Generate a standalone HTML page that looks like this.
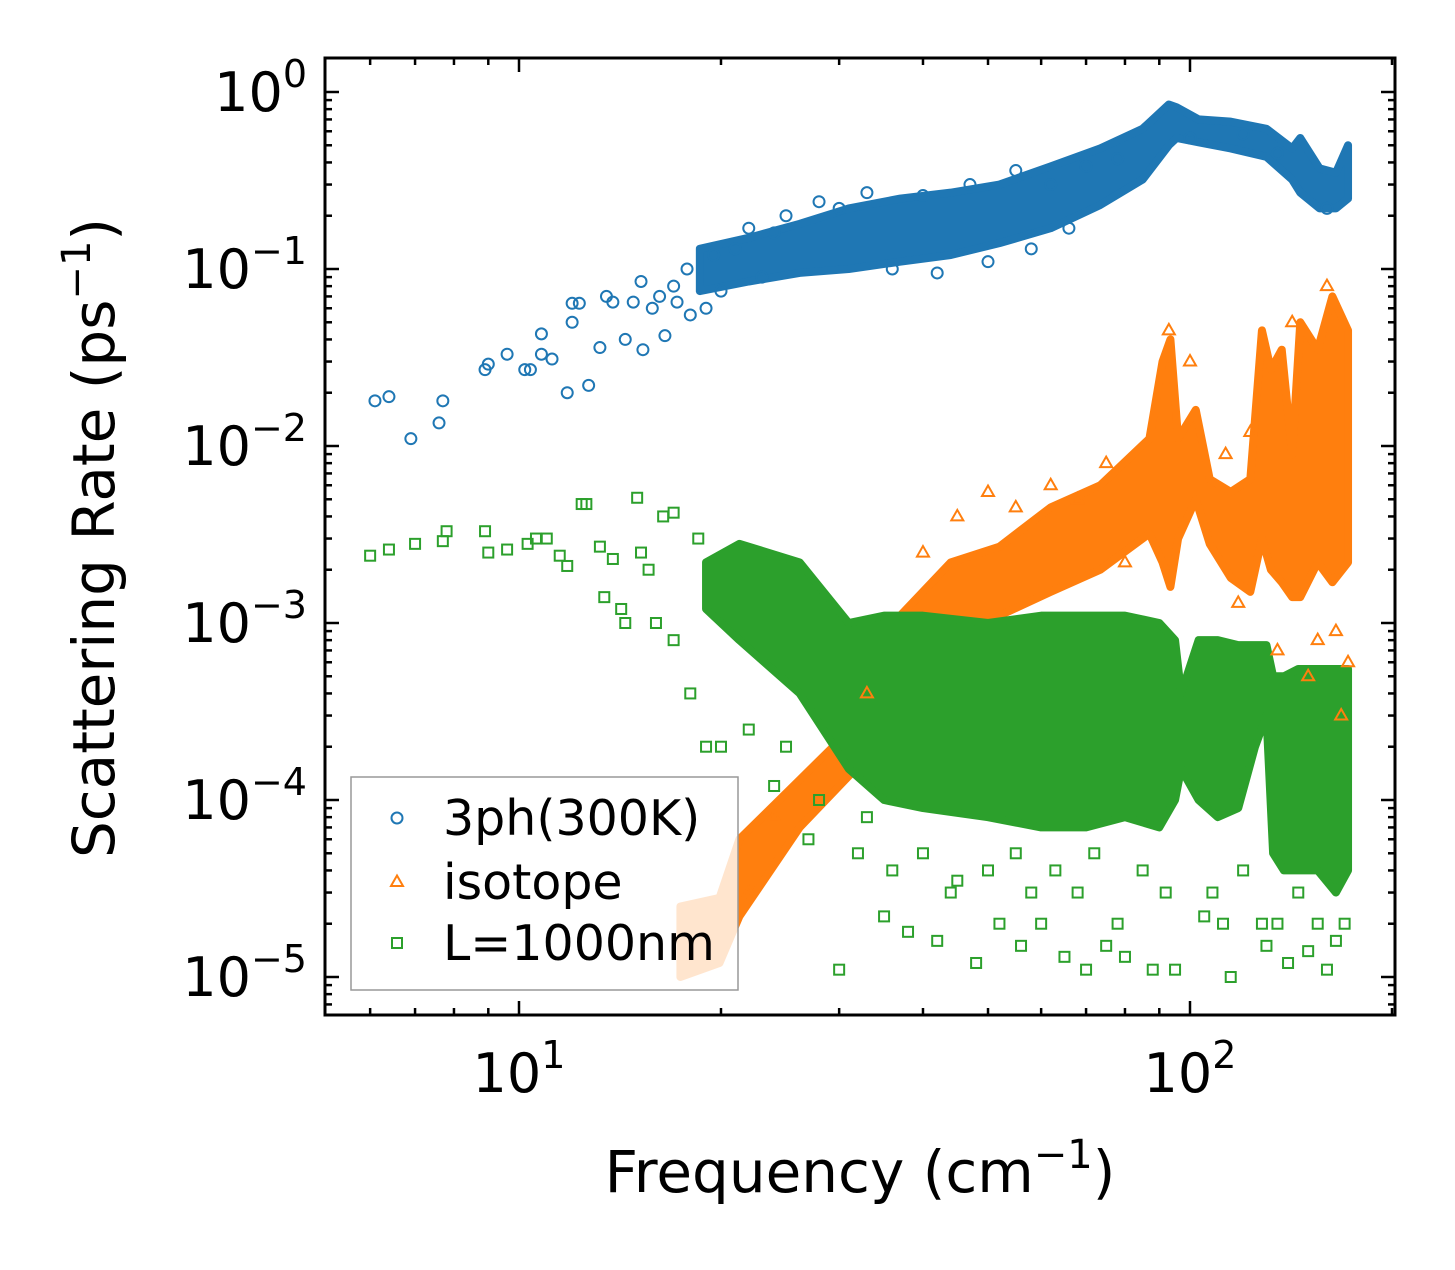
<!DOCTYPE html>
<html><head><meta charset="utf-8"><style>
body{margin:0;background:#fff}
svg text{font-family:"DejaVu Sans","Liberation Sans",sans-serif;fill:#000}
</style></head><body>
<svg id="chart" width="1455" height="1265" viewBox="0 0 1455 1265" xmlns="http://www.w3.org/2000/svg">
<g id="bands"></g>
<g id="marks"></g>
<g id="axes"></g>
<g id="legend"></g>
</svg>
<script>
// ---- data ----
const blueFreq=[6.1,6.4,6.9,7.6,7.7,8.9,9.0,9.6,10.2,10.4,10.8,10.8,11.2,11.8,12.0,12.0,12.3,12.7,13.2,13.5,13.8,14.4,14.8,15.2,15.3,15.8,16.2,16.5,17.0,17.2,17.8,18.0,19.5,22,25,28,33,40,47,55,62,70,78,19,20,21,23,24,30,36,42,50,58,66,100,120,135,160];
const blueRate=[0.018,0.019,0.011,0.0135,0.018,0.027,0.029,0.033,0.027,0.027,0.043,0.033,0.031,0.02,0.064,0.05,0.064,0.022,0.036,0.07,0.065,0.04,0.065,0.085,0.035,0.06,0.07,0.042,0.08,0.065,0.1,0.055,0.12,0.17,0.2,0.24,0.27,0.26,0.3,0.36,0.3,0.38,0.42,0.06,0.075,0.13,0.09,0.16,0.22,0.1,0.095,0.11,0.13,0.17,0.55,0.58,0.45,0.22];
const blueBandF=[18.6,22,26.2,31,37,44,52,62,73.5,85,93,95.5,103,115,130,142,146,156,165,172];
const blueBandLo=[0.075,0.085,0.095,0.1,0.11,0.12,0.14,0.17,0.23,0.32,0.5,0.55,0.52,0.48,0.43,0.32,0.27,0.22,0.22,0.25];
const blueBandHi=[0.13,0.15,0.18,0.22,0.25,0.27,0.3,0.38,0.48,0.62,0.85,0.82,0.7,0.68,0.62,0.48,0.55,0.37,0.35,0.5];

const orangeFreq=[50,62,75,93,113,123,142,160,165,172,40,45,55,68,80,100,118,135,150,155,168,22,24,28,33];
const orangeRate=[0.0055,0.006,0.008,0.045,0.009,0.012,0.05,0.08,0.0009,0.0006,0.0025,0.004,0.0045,0.005,0.0022,0.03,0.0013,0.0007,0.0005,0.0008,0.0003,0.00003,0.00008,0.0001,0.0004];
const orangeBandF=[17.4,19.9,21.3,26.2,31.2,34,37,44,52,62,73.5,87,91,93.5,96,102,107,115,123,128,132,137,142,146,155,163,172];
const orangeBandLo=[0.00001,0.000012,0.000022,0.00007,0.00014,0.0002,0.0004,0.0008,0.0011,0.0015,0.002,0.0032,0.0022,0.0016,0.003,0.005,0.0028,0.0018,0.0015,0.003,0.002,0.0017,0.0014,0.0014,0.0022,0.0017,0.0022];
const orangeBandHi=[0.000025,0.000028,0.00006,0.00013,0.00025,0.0005,0.0011,0.0022,0.0027,0.0045,0.006,0.011,0.03,0.04,0.011,0.016,0.0065,0.0055,0.0065,0.045,0.027,0.035,0.009,0.05,0.035,0.07,0.045];

const greenFreq=[6.0,6.4,7.0,7.7,7.8,8.9,9.0,9.6,10.3,10.6,11,11.5,11.8,12.4,12.6,13.2,13.4,13.8,14.2,14.4,15,15.2,15.6,16,16.4,17,17,18,18.5,19,20,22,24,27,30,32,35,38,42,45,48,52,56,60,65,70,75,80,88,95,105,115,130,140,150,160,165,25,28,33,36,40,44,50,55,58,63,68,72,78,85,92,108,112,120,128,135,145,155,170];
const greenRate=[0.0024,0.0026,0.0028,0.0029,0.0033,0.0033,0.0025,0.0026,0.0028,0.003,0.003,0.0024,0.0021,0.0047,0.0047,0.0027,0.0014,0.0023,0.0012,0.001,0.0051,0.0025,0.002,0.001,0.004,0.0042,0.0008,0.0004,0.003,0.0002,0.0002,0.00025,0.00012,0.00006,0.000011,0.00005,0.000022,0.000018,0.000016,0.000035,0.000012,0.00002,0.000015,0.00002,0.000013,0.000011,0.000015,0.000013,0.000011,0.000011,0.000022,0.00001,0.000015,0.000012,0.000014,0.000011,0.000016,0.0002,0.0001,0.00008,0.00004,0.00005,0.00003,0.00004,0.00005,0.00003,0.00004,0.00003,0.00005,0.00002,0.00004,0.00003,0.00003,0.00002,0.00004,0.00002,0.00002,0.00003,0.00002,0.00002];
const greenBandF=[19,21.3,26.2,31,35,40,50,60,70,80,90,95,97,103,110,118,125,130,133,138,145,155,165,172];
const greenBandLo=[0.0012,0.0008,0.0004,0.00015,0.0001,0.00009,0.00008,0.00007,0.00007,0.00008,0.00007,0.0001,0.00015,0.0001,0.00008,0.00009,0.0002,0.0003,0.00005,0.00004,0.00004,0.00004,0.00003,0.00004];
const greenBandHi=[0.0022,0.0028,0.0022,0.001,0.0011,0.0011,0.001,0.0011,0.0011,0.0011,0.001,0.0008,0.0004,0.0008,0.0008,0.00075,0.00075,0.00075,0.0005,0.0005,0.00055,0.00055,0.00055,0.00055];

const xTicks=[10,100];
const xTickLabels=["1","2"];
const yTicks=[1,0.1,0.01,0.001,0.0001,0.00001];
const yTickLabels=["0","\u22121","\u22122","\u22123","\u22124","\u22125"];

// ---- axes ----
const L=325,R=1395,T=58,B=1015;
const X=f=>519+(Math.log10(f)-1)*671;
const Y=r=>92-Math.log10(r)*177;
const NS="http://www.w3.org/2000/svg";
function mk(tag,attrs,parent){const e=document.createElementNS(NS,tag);for(const k in attrs)e.setAttribute(k,attrs[k]);parent.appendChild(e);return e;}
const C={b:"#1f77b4",o:"#ff7f0e",g:"#2ca02c"};

const bands=document.getElementById('bands');
function band(F,lo,hi,col,name){
  let pts=F.map((f,i)=>X(f)+","+Y(hi[i]));
  for(let i=F.length-1;i>=0;i--)pts.push(X(F[i])+","+Y(lo[i]));
  const p=mk('polygon',{points:pts.join(" "),fill:col,stroke:col,'stroke-width':8,'stroke-linejoin':'round'},bands);
  
  
}
const marks=document.getElementById('marks');
function marker(kind,x,y,col,parent){
  let e;
  if(kind==='b')e=mk('circle',{cx:x,cy:y,r:5.5,fill:'none',stroke:col,'stroke-width':2},parent);
  else if(kind==='o')e=mk('polygon',{points:`${x},${y-6.5} ${x+6},${y+4} ${x-6},${y+4}`,fill:'none',stroke:col,'stroke-width':2},parent);
  else e=mk('rect',{x:x-5,y:y-5,width:10,height:10,fill:'none',stroke:col,'stroke-width':2},parent);
  return e;
}
function scatter(F,Rr,kind,name){
  F.forEach((f,i)=>{const e=marker(kind,X(f),Y(Rr[i]),C[kind],marks);
    
    });
}
band(blueBandF,blueBandLo,blueBandHi,C.b,'3ph-cloud');
scatter(blueFreq,blueRate,'b','3ph-point');
band(orangeBandF,orangeBandLo,orangeBandHi,C.o,'isotope-cloud');
scatter(orangeFreq,orangeRate,'o','isotope-point');
band(greenBandF,greenBandLo,greenBandHi,C.g,'boundary-cloud');
scatter(greenFreq,greenRate,'g','boundary-point');

// axes frame & ticks
const ax=document.getElementById('axes');
mk('rect',{x:L,y:T,width:R-L,height:B-T,fill:'none',stroke:'#000','stroke-width':3},ax);
for(let d=0;d<=2;d++)for(let m=1;m<=9;m++){
  const f=m*Math.pow(10,d); const x=X(f); if(x<L||x>R)continue;
  const len=m===1?14:7;
  mk('line',{x1:x,y1:B,x2:x,y2:B-len,stroke:'#000','stroke-width':2.5},ax);
  mk('line',{x1:x,y1:T,x2:x,y2:T+len,stroke:'#000','stroke-width':2.5},ax);
}
for(let d=-6;d<=0;d++)for(let m=1;m<=9;m++){
  const r=m*Math.pow(10,d); const y=Y(r); if(y<T||y>B)continue;
  const len=m===1?14:7;
  mk('line',{x1:L,y1:y,x2:L+len,y2:y,stroke:'#000','stroke-width':2.5},ax);
  mk('line',{x1:R,y1:y,x2:R-len,y2:y,stroke:'#000','stroke-width':2.5},ax);
}
xTicks.forEach((v,i)=>{
  const t=mk('text',{x:X(v),y:1092,'font-size':54,'text-anchor':'middle'},ax);
  
  
  t.innerHTML=`10<tspan dy="-24" font-size="38">${xTickLabels[i]}</tspan>`;
});
yTicks.forEach((v,i)=>{
  const t=mk('text',{x:307,y:Y(v)+19,'font-size':54,'text-anchor':'end'},ax);
  
  
  t.innerHTML=`10<tspan dy="-24" font-size="38">${yTickLabels[i]}</tspan>`;
});
const xt=mk('text',{x:860,y:1192,'font-size':58,'text-anchor':'middle'},ax);


xt.innerHTML='Frequency (cm<tspan dy="-24" font-size="40">\u22121</tspan><tspan dy="24">)</tspan>';
const yt=mk('text',{x:0,y:0,'font-size':58,'text-anchor':'middle',transform:'translate(114,538) rotate(-90)'},ax);


yt.innerHTML='Scattering Rate (ps<tspan dy="-24" font-size="40">\u22121</tspan><tspan dy="24">)</tspan>';

// legend
const lg=document.getElementById('legend');
mk('rect',{x:351,y:777,width:387,height:213,fill:'rgba(255,255,255,0.8)',stroke:'#999','stroke-width':1.5},lg);
[['b','3ph(300K)',818],['o','isotope',882],['g','L=1000nm',943]].forEach(([k,lab,y])=>{
  const m=marker(k,397,y,C[k],lg);
  
  
  const t=mk('text',{x:443,y:y+17,'font-size':49},lg);
  
  
  t.textContent=lab;
});
</script>
</body></html>
